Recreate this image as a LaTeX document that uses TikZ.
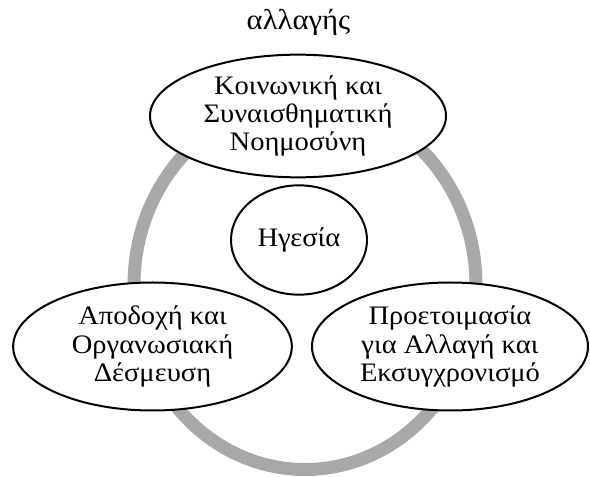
\documentclass[tikz,border=0pt]{standalone}
\usepackage{fontspec}
\setmainfont{Liberation Serif}[FakeStretch=1.07]
\usetikzlibrary{shapes.geometric}
\definecolor{ringgray}{RGB}{168,168,168}
\tikzset{topic/.style={ellipse,draw,line width=1.5pt,fill=white,inner sep=0pt,align=center,
		font=\fontsize{20}{21.3}\selectfont},
	 hub/.style={topic,minimum width=102pt,minimum height=82pt},
	 x=0.75pt,y=-0.75pt
	 }

\begin{document}
\begin{tikzpicture}% leadership cycle
        \useasboundingbox (0,0) rectangle (590,477);
        \draw[ringgray,line width=9.75pt] (305,285) ellipse [x radius=171,y radius=184.5];
        \node[anchor=base,font=\fontsize{21.5}{24}\selectfont] (title) at (298.5,30) {αλλαγής};
        \node[topic,minimum width=222pt,minimum height=92pt] (emo) at (298,116)
            {Κοινωνική και\\Συναισθηματική\\Νοημοσύνη};
        \node[hub] (lead) at (299,240) {Ηγεσία};
        \node[topic,minimum width=209pt,minimum height=96pt] (acc) at (152.5,346.5)
            {Αποδοχή και\\Οργανωσιακή\\Δέσμευση};
        \node[topic,minimum width=207pt,minimum height=96pt] (prep) at (450,346.5)
            {Προετοιμασία\\για Αλλαγή και\\Εκσυγχρονισμό};
     \end{tikzpicture}
\end{document}
